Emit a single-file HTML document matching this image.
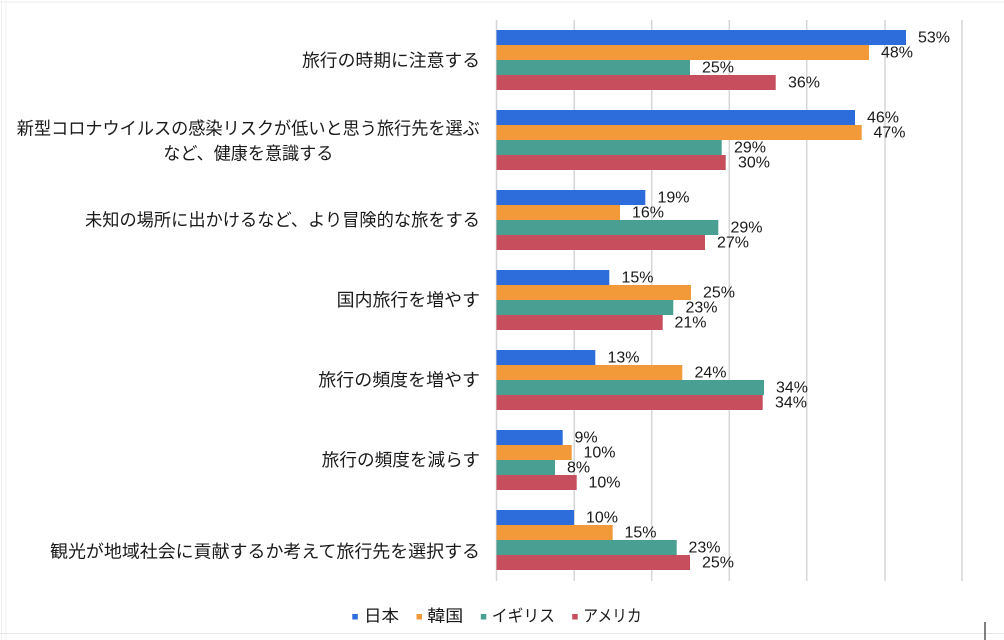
<!DOCTYPE html>
<html><head><meta charset="utf-8"><style>
html,body{margin:0;padding:0;background:#fff;}
svg{display:block;}
.cat{font-family:"Liberation Sans","Noto Sans CJK JP",sans-serif;font-size:17.5px;fill:#1a1a1a;}
.val{font-family:"Liberation Sans",sans-serif;font-size:16px;fill:#1a1a1a;}
.leg{font-family:"Liberation Sans","Noto Sans CJK JP",sans-serif;font-size:16.5px;fill:#1a1a1a;}
</style></head><body>
<svg width="1004" height="640" viewBox="0 0 1004 640" xmlns="http://www.w3.org/2000/svg">
<rect width="1004" height="640" fill="#fff"/>
<line x1="0" y1="2" x2="1004" y2="2" stroke="#eeeeee" stroke-width="1"/>
<line x1="1.5" y1="0" x2="1.5" y2="640" stroke="#efefef" stroke-width="1"/>
<line x1="6" y1="0" x2="6" y2="640" stroke="#f2f2f2" stroke-width="1"/>
<g stroke="#d6d6d6" stroke-width="1.5">
<line x1="496.5" y1="20" x2="496.5" y2="581"/>
<line x1="574.3" y1="20" x2="574.3" y2="581"/>
<line x1="651.7" y1="20" x2="651.7" y2="581"/>
<line x1="729.3" y1="20" x2="729.3" y2="581"/>
<line x1="806.7" y1="20" x2="806.7" y2="581"/>
<line x1="885" y1="20" x2="885" y2="581"/>
<line x1="962" y1="20" x2="962" y2="581"/>
</g>
<g>
<!-- G1 -->
<rect x="496.5" y="30" width="409.5" height="15" fill="#2d6cdb"/>
<rect x="496.5" y="45" width="372.5" height="15" fill="#f2993a"/>
<rect x="496.5" y="60" width="193.5" height="15" fill="#4a9f93"/>
<rect x="496.5" y="75" width="279.2" height="15" fill="#c64e5d"/>
<!-- G2 -->
<rect x="496.5" y="110" width="358.5" height="15" fill="#2d6cdb"/>
<rect x="496.5" y="125" width="365.2" height="15" fill="#f2993a"/>
<rect x="496.5" y="140" width="225.2" height="15" fill="#4a9f93"/>
<rect x="496.5" y="155" width="229.2" height="15" fill="#c64e5d"/>
<!-- G3 -->
<rect x="496.5" y="190" width="148.8" height="15" fill="#2d6cdb"/>
<rect x="496.5" y="205" width="123.5" height="15" fill="#f2993a"/>
<rect x="496.5" y="220" width="221.8" height="15" fill="#4a9f93"/>
<rect x="496.5" y="235" width="208.5" height="15" fill="#c64e5d"/>
<!-- G4 -->
<rect x="496.5" y="270" width="112.8" height="15" fill="#2d6cdb"/>
<rect x="496.5" y="285" width="194.5" height="15" fill="#f2993a"/>
<rect x="496.5" y="300" width="176.8" height="15" fill="#4a9f93"/>
<rect x="496.5" y="315" width="166.2" height="15" fill="#c64e5d"/>
<!-- G5 -->
<rect x="496.5" y="350" width="98.8" height="15" fill="#2d6cdb"/>
<rect x="496.5" y="365" width="185.8" height="15" fill="#f2993a"/>
<rect x="496.5" y="380" width="267.5" height="15" fill="#4a9f93"/>
<rect x="496.5" y="395" width="266.2" height="15" fill="#c64e5d"/>
<!-- G6 -->
<rect x="496.5" y="430" width="66.2" height="15" fill="#2d6cdb"/>
<rect x="496.5" y="445" width="75.2" height="15" fill="#f2993a"/>
<rect x="496.5" y="460" width="58.5" height="15" fill="#4a9f93"/>
<rect x="496.5" y="475" width="80.2" height="15" fill="#c64e5d"/>
<!-- G7 -->
<rect x="496.5" y="510" width="77.5" height="15" fill="#2d6cdb"/>
<rect x="496.5" y="525" width="116.2" height="15" fill="#f2993a"/>
<rect x="496.5" y="540" width="180.2" height="15" fill="#4a9f93"/>
<rect x="496.5" y="555" width="193.5" height="15" fill="#c64e5d"/>
</g>
<g class="val" dominant-baseline="central">
<text x="918" y="38">53%</text>
<text x="881" y="53">48%</text>
<text x="702" y="68">25%</text>
<text x="788" y="83">36%</text>
<text x="867" y="118">46%</text>
<text x="873.5" y="133">47%</text>
<text x="734" y="148">29%</text>
<text x="738" y="163">30%</text>
<text x="657.5" y="198">19%</text>
<text x="632" y="213">16%</text>
<text x="730.5" y="228">29%</text>
<text x="717" y="243">27%</text>
<text x="621.5" y="278">15%</text>
<text x="703" y="293">25%</text>
<text x="685.5" y="308">23%</text>
<text x="674.5" y="323">21%</text>
<text x="607.5" y="358">13%</text>
<text x="694.5" y="373">24%</text>
<text x="776" y="388">34%</text>
<text x="775" y="403">34%</text>
<text x="574.5" y="438">9%</text>
<text x="583.5" y="453">10%</text>
<text x="567" y="468">8%</text>
<text x="588.5" y="483">10%</text>
<text x="586" y="518">10%</text>
<text x="624.5" y="533">15%</text>
<text x="688.5" y="548">23%</text>
<text x="702" y="563">25%</text>
</g>
<g class="cat" dominant-baseline="central">
<text x="480" y="60.7" text-anchor="end" textLength="178" lengthAdjust="spacingAndGlyphs">旅行の時期に注意する</text>
<text x="248.3" y="128.3" text-anchor="middle" textLength="463" lengthAdjust="spacingAndGlyphs">新型コロナウイルスの感染リスクが低いと思う旅行先を選ぶ</text>
<text x="248.3" y="153.3" text-anchor="middle" textLength="170" lengthAdjust="spacingAndGlyphs">など、健康を意識する</text>
<text x="480" y="220" text-anchor="end" textLength="395" lengthAdjust="spacingAndGlyphs">未知の場所に出かけるなど、より冒険的な旅をする</text>
<text x="480" y="300" text-anchor="end" textLength="143.3" lengthAdjust="spacingAndGlyphs">国内旅行を増やす</text>
<text x="480" y="380" text-anchor="end" textLength="161.7" lengthAdjust="spacingAndGlyphs">旅行の頻度を増やす</text>
<text x="480" y="460" text-anchor="end" textLength="158.3" lengthAdjust="spacingAndGlyphs">旅行の頻度を減らす</text>
<text x="480" y="551.7" text-anchor="end" textLength="430" lengthAdjust="spacingAndGlyphs">観光が地域社会に貢献するか考えて旅行先を選択する</text>
</g>
<g>
<rect x="352.3" y="614" width="5.5" height="5.5" fill="#2d6cdb"/>
<rect x="416.5" y="614" width="5.5" height="5.5" fill="#f2993a"/>
<rect x="480.8" y="614" width="5.5" height="5.5" fill="#4a9f93"/>
<rect x="572.2" y="614" width="5.5" height="5.5" fill="#c64e5d"/>
</g>
<g class="leg" dominant-baseline="central">
<text x="364" y="616.5" textLength="35" lengthAdjust="spacingAndGlyphs">日本</text>
<text x="427.3" y="616.5" textLength="36" lengthAdjust="spacingAndGlyphs">韓国</text>
<text x="491.7" y="616.5" textLength="63.3" lengthAdjust="spacingAndGlyphs">イギリス</text>
<text x="583.3" y="616.5" textLength="58.4" lengthAdjust="spacingAndGlyphs">アメリカ</text>
</g>
<line x1="0" y1="633.5" x2="1004" y2="633.5" stroke="#e6e6e6" stroke-width="1"/>
<line x1="985" y1="622" x2="985" y2="640" stroke="#555555" stroke-width="1.5"/>
</svg>
</body></html>
